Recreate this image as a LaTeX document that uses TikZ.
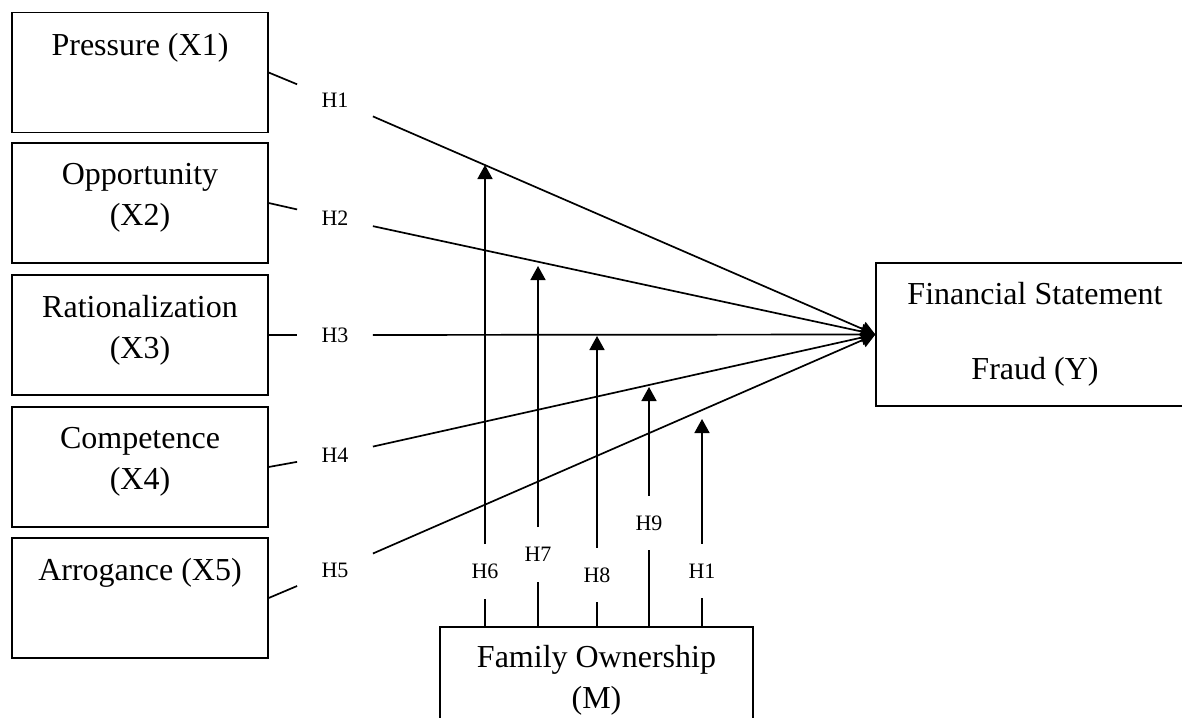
\documentclass[tikz,border=0pt]{standalone}
\usepackage{fontspec}
\setmainfont{Liberation Serif}
\usetikzlibrary{arrows.meta,positioning}
\newcommand{\boxtxt}[2]{\parbox[c][60pt][t]{#1}{\centering\vspace*{10.3pt}#2}}

\begin{document}
\begin{tikzpicture}[x=0.5pt, y=-0.5pt, fbox/.style={draw, line width=0.65pt, inner sep=0pt, font=\fontsize{16}{20.5}\selectfont}, hyp/.style={inner sep=0pt, minimum width=37.5pt, minimum height=27pt, font=\fontsize{11}{13}\selectfont}, link/.style={line width=0.85pt}, arr/.style={link, -{Triangle[width=7.5pt,length=7pt]}}]
\useasboundingbox (0,0) rectangle (1182,717);
\foreach \i/\y/\hy/\txt in {1/72.5/100/{Pressure (X1)}, 2/203/218/{Opportunity\\(X2)}, 3/335/335/{Rationalization\\(X3)}, 4/467/455/{Competence\\(X4)}, 5/598/570/{Arrogance (X5)}}{
  \node[fbox] (x\i) at (140,\y) {\boxtxt{128pt}{\txt}};
  \node[hyp] (h\i) at (335,\hy) {H\i};
}
\node[fbox, align=center, minimum width=159pt, minimum height=71.5pt] (fsf) at (1035,334.5) {Financial Statement\\[17pt]Fraud (Y)};
\node[fbox] (fam) at (596.5,687) {\parbox[c][60pt][t]{156.5pt}{\centering\vspace*{9.3pt}Family Ownership\\(M)}};
\foreach \i in {1,...,5}{
  \draw[link] (x\i.east) -- (h\i);
  \draw[arr] (h\i) -- (fsf.west);
}
\foreach \j/\x/\ly/\ty/\t in {6/485/571.5/165/H6, 7/538/554.5/266/H7, 8/597/575/336/H8, 9/649/523/387/H9, 10/702/571/419/H1}{
  \coordinate (t\j) at (\x,\ty);
  \node[hyp] (h\j) at (\x,\ly) {\t};
  \draw[link] (fam.north -| t\j) -- (h\j);
  \draw[arr] (h\j) -- (t\j);
}
\end{tikzpicture}
\end{document}
